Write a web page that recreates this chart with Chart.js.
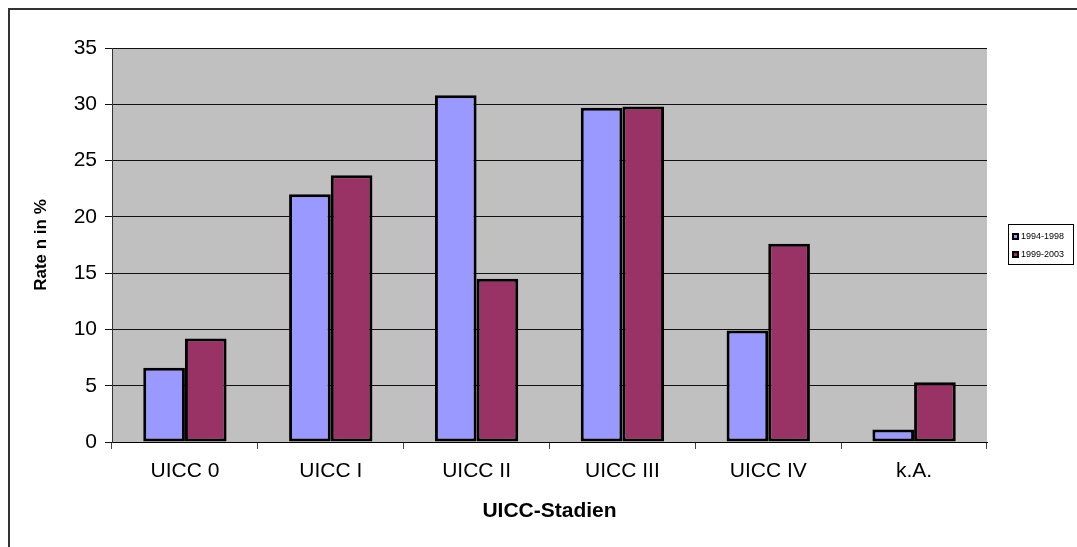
<!DOCTYPE html>
<html>
<head>
<meta charset="utf-8">
<title>UICC-Stadien</title>
<script src="https://cdn.jsdelivr.net/npm/chart.js@4/dist/chart.umd.min.js"></script>
<style>
  html, body { margin: 0; padding: 0; background: #ffffff; }
  canvas { display: block; }
</style>
</head>
<body>
<canvas id="chart" width="1077" height="547"></canvas>
<script>
// Stages on the x axis
const categories = ['UICC 0', 'UICC I', 'UICC II', 'UICC III', 'UICC IV', 'k.A.'];
// Series: share of patients per stage (%)
const seriesLabels = ['1994-1998', '1999-2003'];
const values1994_1998 = [6.6, 22.0, 30.8, 29.7, 9.9, 1.1];
const values1999_2003 = [9.2, 23.7, 14.5, 29.8, 17.6, 5.3];
// Value axis
const yMin = 0, yMax = 35, yStep = 5;

const colors = ['#9999FF', '#993366'];
const FONT = "'Liberation Sans', Arial, sans-serif";

// Grey plot-area background
const plotBackground = {
  id: 'plotBackground',
  beforeDraw(chart) {
    const { ctx, chartArea: a } = chart;
    ctx.save();
    ctx.fillStyle = '#C0C0C0';
    ctx.fillRect(a.left, a.top, a.right - a.left, a.bottom - a.top);
    ctx.restore();
  }
};

// Outer frame of the chart object
const outerFrame = {
  id: 'outerFrame',
  afterDraw(chart) {
    const { ctx } = chart;
    ctx.save();
    ctx.strokeStyle = '#333333';
    ctx.lineWidth = 2;
    ctx.strokeRect(9, 9, 2000, 2000);
    ctx.restore();
  }
};

// Small boxed legend to the right of the plot
const boxedLegend = {
  id: 'boxedLegend',
  afterDraw(chart) {
    const { ctx } = chart;
    const x = 1008.5, y = 224.5, w = 65, h = 40;
    ctx.save();
    ctx.fillStyle = '#ffffff';
    ctx.fillRect(x, y, w, h);
    ctx.strokeStyle = '#000000';
    ctx.lineWidth = 1;
    ctx.strokeRect(x, y, w, h);
    ctx.font = '9px ' + FONT;
    ctx.textBaseline = 'middle';
    ctx.textAlign = 'left';
    chart.data.datasets.forEach((ds, i) => {
      const cy = 236 + i * 18;
      ctx.fillStyle = '#000000';
      ctx.fillRect(1012, cy - 3, 7, 7);
      ctx.fillStyle = ds.backgroundColor;
      ctx.fillRect(1014, cy - 1, 3, 3);
      ctx.fillStyle = '#000000';
      ctx.fillText(ds.label, 1021, cy + 0.5);
    });
    ctx.restore();
  }
};

new Chart(document.getElementById('chart'), {
  type: 'bar',
  data: {
    labels: categories,
    datasets: [
      { label: seriesLabels[0], data: values1994_1998, backgroundColor: colors[0] },
      { label: seriesLabels[1], data: values1999_2003, backgroundColor: colors[1] }
    ]
  },
  options: {
    responsive: false,
    animation: false,
    devicePixelRatio: 1,
    layout: { padding: { left: 27, top: 48, right: 90, bottom: 0 } },
    datasets: {
      bar: {
        borderColor: '#000000',
        borderWidth: 3,
        borderSkipped: false,
        categoryPercentage: 2 / 3.5,
        barPercentage: 1
      }
    },
    plugins: {
      legend: { display: false },
      tooltip: { enabled: false }
    },
    scales: {
      x: {
        afterFit(scale) { scale.height = 105; },
        grid: { drawOnChartArea: false, drawTicks: true, tickLength: 7, color: '#444444' },
        border: { color: '#000000', width: 1 },
        ticks: { color: '#000000', font: { family: FONT, size: 21 }, padding: 10 },
        title: {
          display: true, text: 'UICC-Stadien', color: '#000000',
          font: { family: FONT, size: 21, weight: 'bold' },
          padding: { top: 0, bottom: 23 }
        }
      },
      y: {
        min: yMin, max: yMax,
        afterFit(scale) { scale.width = 85; },
        grid: { drawTicks: true, tickLength: 7, color: '#111111' },
        border: { color: '#333333', width: 1 },
        ticks: { stepSize: yStep, color: '#000000', font: { family: FONT, size: 21 }, padding: 8 },
        title: {
          display: true, text: 'Rate n in %', color: '#000000',
          font: { family: FONT, size: 17, weight: 'bold' },
          padding: { top: 4, bottom: 0 }
        }
      }
    }
  },
  plugins: [plotBackground, outerFrame, boxedLegend]
});
</script>
</body>
</html>
